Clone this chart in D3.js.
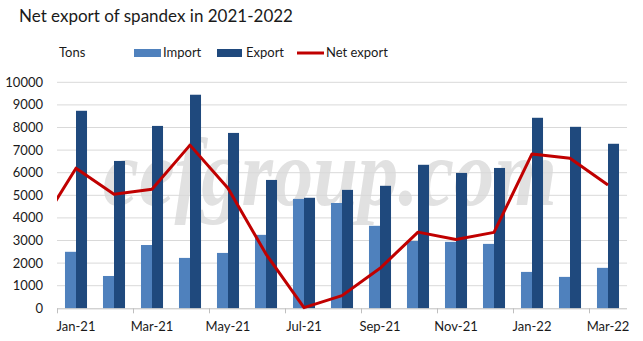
<!DOCTYPE html>
<html><head><meta charset="utf-8">
<script src="https://cdn.jsdelivr.net/npm/d3@7"></script>
<style>
body{margin:0;background:#fff;}
svg{display:block;font-family:Lato,"Open Sans",sans-serif;}
</style></head>
<body><svg id="c" width="643" height="341"></svg>
<script>
const months = ["Jan-21","Feb-21","Mar-21","Apr-21","May-21","Jun-21","Jul-21","Aug-21","Sep-21","Oct-21","Nov-21","Dec-21","Jan-22","Feb-22","Mar-22"];
const importVals = [2500,1430,2800,2230,2450,3250,4840,4660,3650,2980,2940,2850,1610,1390,1790];
const exportVals = [8740,6520,8070,9450,7760,5680,4890,5240,5420,6350,5990,6210,8430,8030,7280];
const netVals = [6200,5050,5270,7220,5310,2400,30,560,1770,3370,3040,3360,6830,6640,5460];
const netPrev = {label:"Dec-20", value:3480};
const yTicks = [0,1000,2000,3000,4000,5000,6000,7000,8000,9000,10000];
const xTickLabels = ["Jan-21","Mar-21","May-21","Jul-21","Sep-21","Nov-21","Jan-22","Mar-22"];

const svg = d3.select("#c");
const L=57, R=627, T=82.3, B=308.3;
const x = d3.scaleBand().domain(months).range([L,R]).paddingInner(0.42).paddingOuter(0.21);
const xi = d3.scaleLinear().domain([-0.5, months.length-0.5]).range([L,R]);
const y = d3.scaleLinear().domain([0,10000]).range([B,T]);

// watermark
svg.append("text").attr("x",103).attr("y",205)
  .attr("font-family","'Liberation Serif','DejaVu Serif',serif").attr("font-style","italic").attr("font-weight","bold")
  .attr("font-size",96).attr("fill","#e1e1e1")
  .attr("textLength",454).attr("lengthAdjust","spacingAndGlyphs")
  .text("cefgroup.com");

// gridlines
svg.append("g").selectAll("line").data(yTicks.slice(1)).join("line")
  .attr("x1",L).attr("x2",R).attr("y1",d=>y(d)).attr("y2",d=>y(d))
  .attr("stroke","#d9d9d9").attr("stroke-width",1);

// y labels
svg.append("g").selectAll("text").data(yTicks).join("text")
  .attr("x",43).attr("y",d=>y(d)).attr("dy","0.35em").attr("text-anchor","end")
  .attr("font-size",13).attr("fill","#1a1a1a").text(d=>d);

// bars
const bw = x.bandwidth()/2;
const bars = svg.append("g");
bars.selectAll("rect.imp").data(months).join("rect").attr("class","imp")
  .attr("x",d=>x(d)).attr("width",bw)
  .attr("y",(d,i)=>y(importVals[i])).attr("height",(d,i)=>B-y(importVals[i]))
  .attr("fill","#4f81bd");
bars.selectAll("rect.exp").data(months).join("rect").attr("class","exp")
  .attr("x",d=>x(d)+bw).attr("width",bw)
  .attr("y",(d,i)=>y(exportVals[i])).attr("height",(d,i)=>B-y(exportVals[i]))
  .attr("fill","#1f497d");

// x axis
const ax = svg.append("g");
ax.append("line").attr("x1",L).attr("x2",R).attr("y1",B+0.5).attr("y2",B+0.5).attr("stroke","#bfbfbf");
const tickIdx = d3.range(0, months.length, 2);
ax.selectAll("line.t").data(tickIdx).join("line").attr("class","t")
  .attr("x1",i=>Math.round(xi(i-0.5))+0.5).attr("x2",i=>Math.round(xi(i-0.5))+0.5)
  .attr("y1",B).attr("y2",B+5).attr("stroke","#bfbfbf");
ax.selectAll("text").data(xTickLabels).join("text")
  .attr("x",d=>x(d)+x.bandwidth()/2).attr("y",331).attr("text-anchor","middle")
  .attr("font-size",13).attr("fill","#1a1a1a").text(d=>d);

// net line
svg.append("clipPath").attr("id","pc").append("rect").attr("x",L).attr("y",0).attr("width",R-L).attr("height",341);
const pts = [{i:-1,v:netPrev.value}].concat(netVals.map((v,i)=>({i,v})));
svg.append("path").datum(pts).attr("clip-path","url(#pc)")
  .attr("d",d3.line().x(d=>xi(d.i)).y(d=>y(d.v)))
  .attr("fill","none").attr("stroke","#c00000").attr("stroke-width",3).attr("stroke-linejoin","round");

// title
svg.append("text").attr("x",19).attr("y",22).attr("font-size",18).attr("fill","#1a1a1a")
  .attr("textLength",274).attr("lengthAdjust","spacingAndGlyphs")
  .text("Net export of spandex in 2021-2022");

// legend
const lg = svg.append("g").attr("font-size",13).attr("fill","#1a1a1a");
lg.append("text").attr("x",59).attr("y",57).text("Tons");
lg.append("rect").attr("x",134).attr("y",49).attr("width",27).attr("height",8).attr("fill","#4f81bd");
lg.append("text").attr("x",163).attr("y",57).text("Import");
lg.append("rect").attr("x",217).attr("y",49).attr("width",25).attr("height",8).attr("fill","#1f497d");
lg.append("text").attr("x",246).attr("y",57).text("Export");
lg.append("line").attr("x1",297).attr("x2",324).attr("y1",53).attr("y2",53).attr("stroke","#c00000").attr("stroke-width",3);
lg.append("text").attr("x",326).attr("y",57).text("Net export");
</script></body></html>
